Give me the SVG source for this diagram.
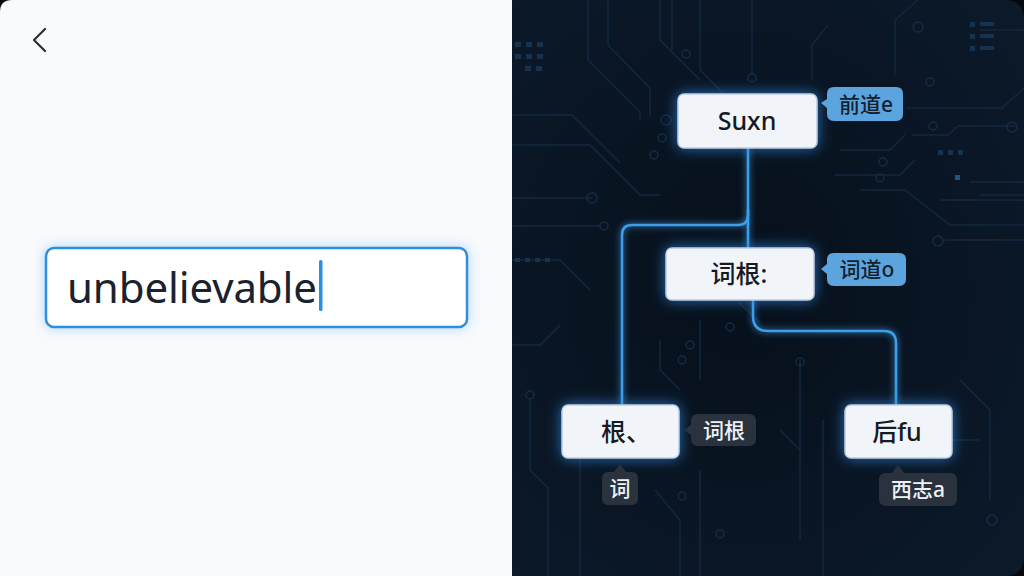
<svg xmlns="http://www.w3.org/2000/svg" width="1024" height="576" viewBox="0 0 1024 576">
<defs>
<style>
.node rect.box{fill:#f1f5f9;stroke:#b9cde3;stroke-width:1.5}
.ntxt{font-family:"Noto Sans","Noto Sans CJK SC",sans-serif;font-size:25px;font-weight:500;fill:#161b22;text-anchor:middle}
.btxt{font-family:"Noto Sans","Noto Sans CJK SC",sans-serif;font-size:21px;font-weight:500;text-anchor:middle}
.blue{fill:#5ba4de}
.dark{fill:#2a323d}
.conn{fill:none;stroke:#3d9ee9;stroke-width:2.5;stroke-linecap:round}
.trace{fill:none;stroke:#142c45;stroke-width:1.5;opacity:0.8}
.tdot{fill:none;stroke:#17314c;stroke-width:1.5;opacity:0.8}
</style>
<filter id="glow" x="-30%" y="-40%" width="160%" height="180%">
<feGaussianBlur in="SourceAlpha" stdDeviation="7" result="b"/>
<feFlood flood-color="#2f86e0" flood-opacity="0.8"/>
<feComposite in2="b" operator="in" result="g"/>
<feMerge><feMergeNode in="g"/><feMergeNode in="SourceGraphic"/></feMerge>
</filter>
<filter id="lglow" x="-20%" y="-20%" width="140%" height="140%">
<feGaussianBlur in="SourceGraphic" stdDeviation="3" result="b"/>
<feMerge><feMergeNode in="b"/><feMergeNode in="SourceGraphic"/></feMerge>
</filter>
<filter id="inglow" x="-10%" y="-40%" width="120%" height="180%">
<feGaussianBlur in="SourceAlpha" stdDeviation="6" result="b"/>
<feFlood flood-color="#4aa3ee" flood-opacity="0.45"/>
<feComposite in2="b" operator="in" result="g"/>
<feMerge><feMergeNode in="g"/><feMergeNode in="SourceGraphic"/></feMerge>
</filter>
<radialGradient id="darkbg" cx="0.45" cy="0.5" r="0.75">
<stop offset="0" stop-color="#07101c"/>
<stop offset="1" stop-color="#0c1a2a"/>
</radialGradient>
</defs>

<rect width="1024" height="576" fill="#05090f"/>
<!-- left panel -->
<g id="left-panel">
<path d="M12,0 H512 V576 H0 V12 Q0,0 12,0 Z" fill="#f8fafc"/>
<polyline points="45,29 34,40 45,51" fill="none" stroke="#2a2f36" stroke-width="2.2" stroke-linecap="round" stroke-linejoin="round"/>
</g>
<g id="input-box">
<rect x="46" y="248" width="421" height="79" rx="8" fill="#ffffff" stroke="#2d8fe0" stroke-width="2.5" filter="url(#inglow)"/>
<text x="67" y="303" font-family="'Noto Sans','Open Sans',sans-serif" font-size="42" fill="#1a2230" textLength="250" lengthAdjust="spacing">unbelievable</text>
<rect x="319" y="260" width="3.5" height="51" rx="1.5" fill="#2d8fe0"/>
</g>

<!-- right panel -->
<path d="M512,0 H1004 Q1024,0 1024,20 V556 Q1024,576 1004,576 H512 Z" fill="url(#darkbg)"/>
<g id="circuit" class="trace">
<path d="M588,0 V60 L640,112 V120"/>
<path d="M608,0 V45 L650,88 V117"/>
<path d="M660,0 V40 L700,80"/>
<path d="M672,0 V50"/>
<path d="M700,0 V70 L735,105"/>
<path d="M752,0 V75"/>
<path d="M512,115 H572 L620,163"/>
<path d="M512,145 H590 L640,195 H660"/>
<path d="M512,198 H592"/>
<path d="M512,226 H600"/>
<path d="M512,260 H560 L590,290"/>
<path d="M512,345 H540 L560,325"/>
<path d="M530,400 V470 L548,488 V576"/>
<path d="M580,430 V576"/>
<path d="M660,340 V370 L680,390"/>
<path d="M700,320 V380"/>
<path d="M700,470 V576"/>
<path d="M655,490 L680,520 V576"/>
<path d="M738,302 L760,322"/>
<path d="M800,360 V540"/>
<path d="M780,430 L800,450"/>
<path d="M823,420 V576"/>
<path d="M828,25 L812,45 V80"/>
<path d="M918,0 L895,20 V75"/>
<path d="M906,108 H1002 L1024,88"/>
<path d="M912,135 H948 L958,126 H1015"/>
<path d="M840,150 H890 L905,135"/>
<path d="M835,175 H900 L915,160"/>
<path d="M860,190 H905 L950,225 H1024"/>
<path d="M940,200 H1024"/>
<path d="M980,30 H1024"/>
<path d="M970,182 H1024"/>
<path d="M980,195 H1024"/>
<path d="M945,240 H1024"/>
<path d="M960,380 L990,410 V500"/>
<path d="M950,440 H980"/>
</g>
<g id="circuit-dots" class="tdot">
<circle cx="666" cy="120" r="5"/>
<circle cx="686" cy="54" r="4"/>
<circle cx="752" cy="78" r="4"/>
<circle cx="662" cy="138" r="4"/>
<circle cx="654" cy="155" r="4"/>
<circle cx="592" cy="198" r="5"/>
<circle cx="604" cy="226" r="4"/>
<circle cx="918" cy="27" r="5"/>
<circle cx="930" cy="82" r="4"/>
<circle cx="933" cy="126" r="4"/>
<circle cx="1012" cy="127" r="5"/>
<circle cx="883" cy="162" r="4"/>
<circle cx="880" cy="178" r="4"/>
<circle cx="938" cy="241" r="5"/>
<circle cx="800" cy="362" r="4"/>
<circle cx="730" cy="327" r="4"/>
<circle cx="690" cy="345" r="4"/>
<circle cx="682" cy="360" r="4"/>
<circle cx="682" cy="496" r="4"/>
<circle cx="720" cy="534" r="4"/>
<circle cx="530" cy="395" r="4"/>
<circle cx="992" cy="520" r="5"/>
</g>
<g id="circuit-marks" fill="#17324d">
<rect x="515" y="42" width="6" height="5"/><rect x="526" y="42" width="6" height="5"/><rect x="537" y="42" width="6" height="5"/>
<rect x="515" y="54" width="6" height="5"/><rect x="526" y="54" width="6" height="5"/><rect x="537" y="54" width="6" height="5"/>
<rect x="525" y="66" width="6" height="5"/><rect x="536" y="66" width="6" height="5"/>
<rect x="970" y="22" width="5" height="5"/><rect x="980" y="22" width="14" height="4"/>
<rect x="970" y="34" width="5" height="5"/><rect x="980" y="34" width="14" height="4"/>
<rect x="970" y="46" width="5" height="5"/><rect x="980" y="46" width="14" height="4"/>
<rect x="938" y="150" width="5" height="5"/><rect x="948" y="150" width="5" height="5"/><rect x="958" y="150" width="5" height="5"/>
<rect x="955" y="175" width="5" height="5" fill="#1f5580"/>
<rect x="515" y="258" width="5" height="4"/><rect x="525" y="258" width="5" height="4"/><rect x="535" y="258" width="5" height="4"/><rect x="545" y="258" width="5" height="4"/>
</g>

<!-- connectors -->
<g id="connectors" class="conn" filter="url(#lglow)">
<path d="M748,148 V248"/>
<path d="M748,210 V215 Q748,225 738,225 H632 Q622,225 622,235 V405"/>
<path d="M753,300 V316 Q753,331 768,331 H884 Q896,331 896,343 V405"/>
</g>

<!-- nodes -->
<g id="node-suxn" class="node">
<rect class="box" x="678" y="94" width="139" height="54" rx="6" filter="url(#glow)"/>
<text class="ntxt" x="747" y="130">Suxn</text>
</g>
<g id="node-cigen" class="node">
<rect class="box" x="666" y="248" width="148" height="52" rx="6" filter="url(#glow)"/>
<text class="ntxt" x="739" y="283">词根:</text>
</g>
<g id="node-gen" class="node">
<rect class="box" x="562" y="405" width="117" height="53" rx="6" filter="url(#glow)"/>
<text class="ntxt" x="601" y="441" style="text-anchor:start">根、</text>
</g>
<g id="node-houfu" class="node">
<rect class="box" x="845" y="405" width="107" height="53" rx="6" filter="url(#glow)"/>
<text class="ntxt" x="897" y="441">后fu</text>
</g>

<!-- bubbles -->
<g id="bubble-qiandao">
<path class="blue" d="M834,87 H896 Q903,87 903,94 V114 Q903,121 896,121 H834 Q827,121 827,114 V108 L821,103 L827,99 V94 Q827,87 834,87 Z"/>
<text class="btxt" x="866" y="112" fill="#13202e">前道e</text>
</g>
<g id="bubble-cidao">
<path class="blue" d="M834,253 H899 Q906,253 906,260 V279 Q906,286 899,286 H834 Q827,286 827,279 V274 L821,269 L827,264 V260 Q827,253 834,253 Z"/>
<text class="btxt" x="867" y="277" fill="#13202e">词道o</text>
</g>
<g id="bubble-cigen">
<path class="dark" d="M698,414 H749 Q756,414 756,421 V439 Q756,446 749,446 H698 Q691,446 691,439 V435 L684,430 L691,425 V421 Q691,414 698,414 Z"/>
<text class="btxt" x="724" y="438" fill="#eef2f7">词根</text>
</g>
<g id="bubble-ci">
<path class="dark" d="M608,472 H614 L620,464 L626,472 H632 Q638,472 638,479 V498 Q638,505 632,505 H608 Q602,505 602,498 V479 Q602,472 608,472 Z"/>
<text class="btxt" x="620" y="496" fill="#eef2f7">词</text>
</g>
<g id="bubble-xizhi">
<path class="dark" d="M886,473 H892 L898,465 L904,473 H950 Q957,473 957,480 V499 Q957,506 950,506 H886 Q879,506 879,499 V480 Q879,473 886,473 Z"/>
<text class="btxt" x="918" y="497" fill="#eef2f7">西志a</text>
</g>
</svg>
